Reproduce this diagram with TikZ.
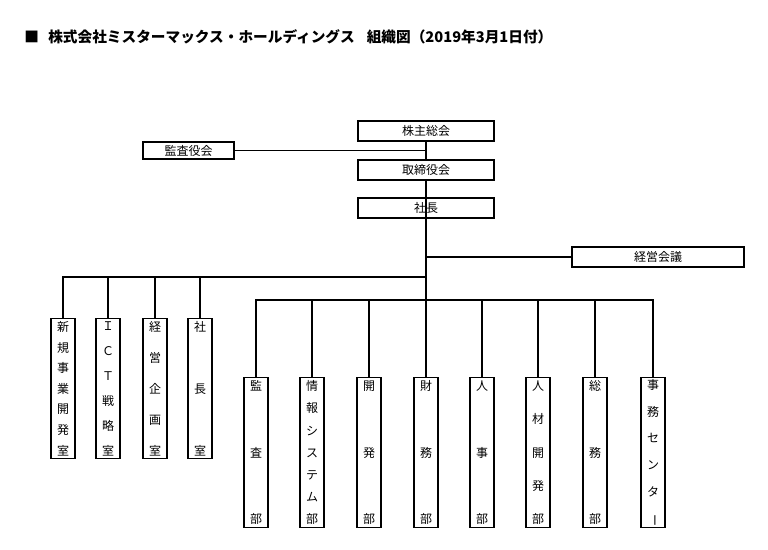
\documentclass[tikz,border=0pt]{standalone}
\usepackage{fontspec}
\setmainfont{Noto Sans CJK JP}
\usepackage{graphicx}
% vertical text, spread over the box height
\newcommand\tate[2]{\parbox[c][#1][s]{1.2em}{\centering\foreach \ch [count=\k] in {#2}{\ifnum\k>1 \vfill\fi\ch\par}}}
\tikzset{
  orgbox/.style={draw, line width=1.1pt, inner sep=0pt, font=\fontsize{9}{10}\selectfont},
  yokobox/.style={orgbox, minimum height=15pt},
  tatebox/.style={orgbox, minimum width=18pt, anchor=north},
  link/.style={line width=1.1pt},
}
\begin{document}
\begin{tikzpicture}[x=0.75pt,y=-0.75pt]
\useasboundingbox (0,0) rectangle (768,550);
\node (title) at (24,37) [anchor=west, inner sep=0pt, font=\fontsize{11}{12}\selectfont\bfseries] {■\hspace{7pt}株式会社ミスターマックス・ホールディングス\hspace{9pt}組織図（2019年3月1日付）};
% top
\node (kabu) at (426,131) [yokobox, minimum width=102pt] {株主総会};
\node (kansa) at (188.5,150.5) [yokobox, minimum width=68.25pt, minimum height=12.75pt] {監査役会};
\node (tori) at (426,170) [yokobox, minimum width=102pt] {取締役会};
\node (shacho) at (426,208) [yokobox, minimum width=102pt] {社長};
\node (kaigi) at (658,257) [yokobox, minimum width=129pt] {経営会議};
% left row
\node (shinki) at (63,318) [tatebox, minimum height=105pt] {\tate{100pt}{新,規,事,業,開,発,室}};
\node (ict) at (108,318) [tatebox, minimum height=105pt] {\tate{100pt}{Ｉ,Ｃ,Ｔ,戦,略,室}};
\node (keiei) at (155,318) [tatebox, minimum height=105pt] {\tate{100pt}{経,営,企,画,室}};
\node (shachoshitsu) at (200,318) [tatebox, minimum height=105pt] {\tate{100pt}{社,長,室}};
% right row
\node (kansabu) at (256,377) [tatebox, minimum height=112.5pt] {\tate{107.5pt}{監,査,部}};
\node (joho) at (312,377) [tatebox, minimum height=112.5pt] {\tate{107.5pt}{情,報,シ,ス,テ,ム,部}};
\node (kaihatsu) at (369,377) [tatebox, minimum height=112.5pt] {\tate{107.5pt}{開,発,部}};
\node (zaimu) at (426,377) [tatebox, minimum height=112.5pt] {\tate{107.5pt}{財,務,部}};
\node (jinji) at (482,377) [tatebox, minimum height=112.5pt] {\tate{107.5pt}{人,事,部}};
\node (jinzai) at (538,377) [tatebox, minimum height=112.5pt] {\tate{107.5pt}{人,材,開,発,部}};
\node (somu) at (595,377) [tatebox, minimum height=112.5pt] {\tate{107.5pt}{総,務,部}};
\node (jimu) at (653,377) [tatebox, minimum height=112.5pt] {\tate{107.5pt}{事,務,セ,ン,タ,\rotatebox[origin=c]{-90}{ー}}};
\coordinate (lbar) at (426,277);
\coordinate (rbar) at (426,300);
\draw[link] (kabu) -- (tori) (tori) -- (zaimu);
\draw[link] (kansa.east) -- (kansa.east -| kabu.south);
\draw[link] (kaigi.west) -- (kaigi.west -| shacho.south);
% left branch
\draw[link] (shinki.north) |- (lbar);
\draw[link]
  (ict.north) -- (ict.north |- lbar)
  (keiei.north) -- (keiei.north |- lbar)
  (shachoshitsu.north) -- (shachoshitsu.north |- lbar)
  ;
% right branch
\draw[link] (kansabu.north) |- (rbar) -| (jimu.north);
\draw[link]
  (joho.north) -- (joho.north |- rbar)
  (kaihatsu.north) -- (kaihatsu.north |- rbar)
  (jinji.north) -- (jinji.north |- rbar)
  (jinzai.north) -- (jinzai.north |- rbar)
  (somu.north) -- (somu.north |- rbar)
  ;
\end{tikzpicture}
\end{document}
